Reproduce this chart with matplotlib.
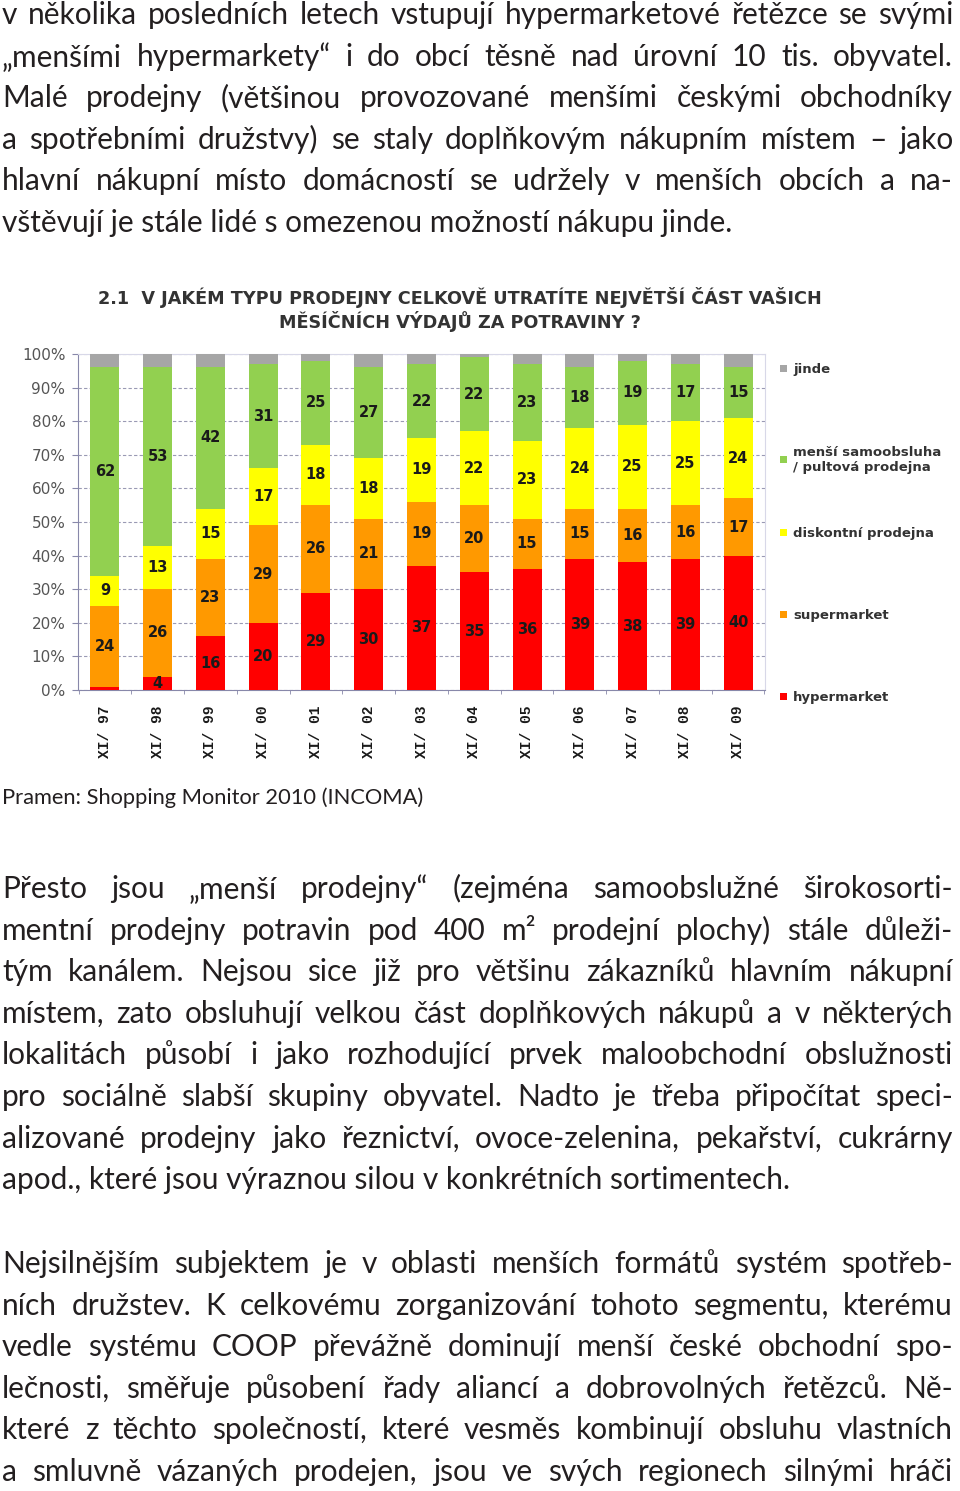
import matplotlib; matplotlib.use('Agg')
import matplotlib.pyplot as plt
from matplotlib.patches import Rectangle
import numpy as np

# ---- chart data (share of respondents, %) ----
years = ['XI/ 97', 'XI/ 98', 'XI/ 99', 'XI/ 00', 'XI/ 01', 'XI/ 02', 'XI/ 03',
         'XI/ 04', 'XI/ 05', 'XI/ 06', 'XI/ 07', 'XI/ 08', 'XI/ 09']
hyper    = [1, 4, 16, 20, 29, 30, 37, 35, 36, 39, 38, 39, 40]
supermkt = [24, 26, 23, 29, 26, 21, 19, 20, 15, 15, 16, 16, 17]
discount = [9, 13, 15, 17, 18, 18, 19, 22, 23, 24, 25, 25, 24]
small    = [62, 53, 42, 31, 25, 27, 22, 22, 23, 18, 19, 17, 15]
jinde    = [4, 4, 4, 3, 2, 4, 3, 1, 3, 4, 2, 3, 4]

series_names = ['hypermarket', 'supermarket', 'diskontní prodejna',
                'menší samoobsluha\n/ pultová prodejna', 'jinde']
series_colors = ['#FF0000', '#FF9900', '#FFFF00', '#92D050', '#A6A6A6']

title_lines = ['2.1  V JAKÉM TYPU PRODEJNY CELKOVĚ UTRATÍTE NEJVĚTŠÍ ČÁST VAŠICH',
               'MĚSÍČNÍCH VÝDAJŮ ZA POTRAVINY ?']
source = 'Pramen: Shopping Monitor 2010 (INCOMA)'

para1 = ['v několika posledních letech vstupují hypermarketové řetězce se svými',
         '„menšími hypermarkety“ i do obcí těsně nad úrovní 10 tis. obyvatel.',
         'Malé prodejny (většinou provozované menšími českými obchodníky',
         'a spotřebními družstvy) se staly doplňkovým nákupním místem – jako',
         'hlavní nákupní místo domácností se udržely v menších obcích a na-',
         'vštěvují je stále lidé s omezenou možností nákupu jinde.']
para2 = ['Přesto jsou „menší prodejny“ (zejména samoobslužné širokosorti-',
         'mentní prodejny potravin pod 400 m² prodejní plochy) stále důleži-',
         'tým kanálem. Nejsou sice již pro většinu zákazníků hlavním nákupní',
         'místem, zato obsluhují velkou část doplňkových nákupů a v některých',
         'lokalitách působí i jako rozhodující prvek maloobchodní obslužnosti',
         'pro sociálně slabší skupiny obyvatel. Nadto je třeba připočítat speci-',
         'alizované prodejny jako řeznictví, ovoce-zelenina, pekařství, cukrárny',
         'apod., které jsou výraznou silou v konkrétních sortimentech.']
para3 = ['Nejsilnějším subjektem je v oblasti menších formátů systém spotřeb-',
         'ních družstev. K celkovému zorganizování tohoto segmentu, kterému',
         'vedle systému COOP převážně dominují menší české obchodní spo-',
         'lečnosti, směřuje působení řady aliancí a dobrovolných řetězců. Ně-',
         'které z těchto společností, které vesměs kombinují obsluhu vlastních',
         'a smluvně vázaných prodejen, jsou ve svých regionech silnými hráči']

W, H = 960, 1491
TXT = '#231F20'
BODY = ['Lato', 'DejaVu Sans']

fig = plt.figure(figsize=(W / 100, H / 100), dpi=100)
fig.patch.set_facecolor('white')
page = fig.add_axes([0, 0, 1, 1])
page.set_xlim(0, W)
page.set_ylim(H, 0)
page.set_axis_off()
rend = fig.canvas.get_renderer()


def width_of(s, **kw):
    t = page.text(0, 0, s, **kw)
    w = t.get_window_extent(rend).width
    t.remove()
    return w


def fit_size(lines, fs, avail=951):
    # biggest size (up to fs) at which every justified line still fits
    kw = dict(fontsize=fs, family=BODY)
    sp = width_of('x x', **kw) - width_of('xx', **kw)
    worst = 0
    for line in lines:
        words = line.split(' ')
        nat = sum(width_of(w, **kw) for w in words) + sp * 0.7 * (len(words) - 1)
        worst = max(worst, nat)
    return min(fs, fs * avail / worst)


def draw_para(lines, y0, x0=2, x1=953, step=41.6, last_justified=False):
    just_lines = lines if last_justified else lines[:-1]
    fs = fit_size(just_lines, 21.5)
    kw = dict(fontsize=fs, family=BODY, color=TXT, va='baseline', ha='left')
    for i, line in enumerate(lines):
        y = y0 + i * step
        words = line.split(' ')
        if line not in just_lines:
            page.text(x0, y, line, **kw)
            continue
        ws = [width_of(w, **kw) for w in words]
        gap = (x1 - x0 - sum(ws)) / (len(words) - 1)
        x = x0
        for w, wd in zip(words, ws):
            page.text(x, y, w, **kw)
            x += wd + gap


draw_para(para1, 24)
draw_para(para2, 898)
draw_para(para3, 1273, last_justified=True)

# source line, sized to its printed width
src_fs = 15 * 423 / width_of(source, fontsize=15, family=BODY)
page.text(2, 798, source, fontsize=src_fs, family=BODY, color=TXT,
          va='center', ha='left')

# chart title
tkw = dict(family='DejaVu Sans', fontweight='bold', color='#333333')
t_fs = 11 * 720 / width_of(title_lines[0], fontsize=11, **tkw)
page.text(460, 298, title_lines[0], fontsize=t_fs, ha='center', va='center', **tkw)
page.text(460, 321, title_lines[1], fontsize=t_fs, ha='center', va='center', **tkw)

# ---- the stacked bar chart ----
ax = fig.add_axes([78 / W, 1 - 690 / H, (765 - 78) / W, (690 - 354) / H])
x = np.arange(len(years))
stack = [hyper, supermkt, discount, small, jinde]
bottom = np.zeros(len(years))
for vals, col in zip(stack, series_colors):
    vals = np.array(vals, dtype=float)
    ax.bar(x, vals, bottom=bottom, width=0.55, color=col, zorder=3, linewidth=0)
    if col != '#A6A6A6':
        for xi, b, v in zip(x, bottom, vals):
            if v >= 2:
                ax.text(xi, b + v / 2, f'{int(v)}', ha='center', va='center',
                        fontsize=10.5, fontweight='bold', color='#1a1a1a', zorder=4)
    bottom += vals

ax.set_xlim(-0.51, 12.51)
ax.set_ylim(0, 100)
ax.set_yticks(range(0, 101, 10))
ax.set_yticklabels([f'{v}%' for v in range(0, 101, 10)])
ax.yaxis.grid(True, color='#9A9AB4', linestyle=(0, (3, 2)), linewidth=0.8, zorder=1)
ax.set_xticks(x)
ax.set_xticklabels(years, rotation=90, family='Liberation Mono', fontweight='bold',
                   fontsize=10.5, color='#1a1a1a', va='top')
ax.set_xticks(np.arange(-0.5, 13, 1), minor=True)
ax.tick_params(axis='x', which='major', length=0, pad=11)
ax.tick_params(axis='x', which='minor', length=3, color='#8888AA')
ax.tick_params(axis='y', length=4, color='#8888AA', labelsize=11, labelcolor='#555555', pad=5)
for s in ['left', 'bottom']:
    ax.spines[s].set_color('#8888AA')
for s in ['top', 'right']:
    ax.spines[s].set_color('#D8D8E8')

# legend drawn at the right of the chart
leg_y = [697, 615, 533, 460, 369]
for name, col, ly in zip(series_names, series_colors, leg_y):
    page.add_patch(Rectangle((780, ly - 4), 7, 7, color=col, lw=0))
    page.text(793, ly, name, fontsize=9.5, family='DejaVu Sans', fontweight='bold',
              color='#333333', va='center', ha='left', linespacing=1.2)

fig.savefig('out.png', dpi=100, facecolor='white')
print('Saved out.png')
